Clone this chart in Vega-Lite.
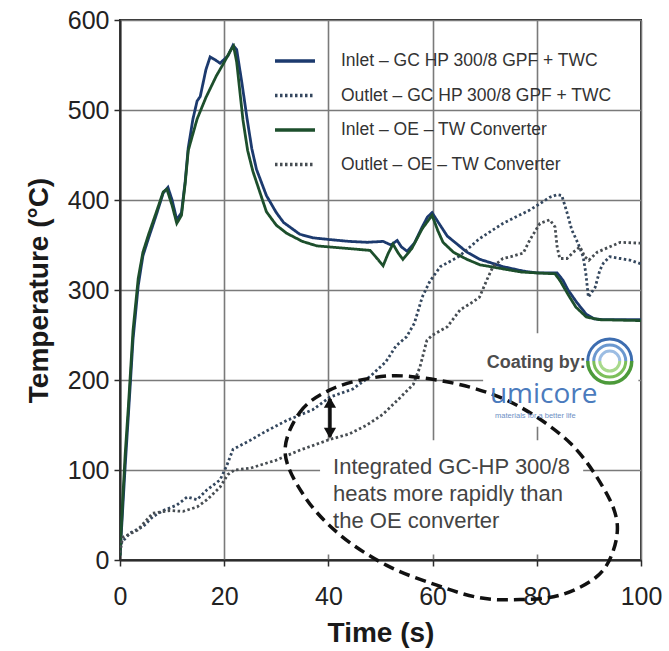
{
  "$schema": "https://vega.github.io/schema/vega-lite/v6.json",
  "width": 521,
  "height": 540,
  "autosize": {"type": "none"},
  "padding": {"left": 120, "top": 20, "right": 28, "bottom": 91},
  "background": "white",
  "config": {
    "view": {"stroke": "#2b2b2b", "strokeWidth": 2},
    "font": "Liberation Sans",
    "axis": {
      "labelFont": "Liberation Sans",
      "labelFontSize": 25,
      "labelColor": "#222222",
      "titleFont": "Liberation Sans",
      "titleFontSize": 28,
      "titleFontWeight": "bold",
      "titleColor": "#1a1a1a",
      "domainColor": "#2b2b2b",
      "domainWidth": 2,
      "tickColor": "#2b2b2b",
      "tickWidth": 1.5,
      "tickSize": 6,
      "gridColor": "#7a7a7a",
      "gridWidth": 1.6,
      "gridOpacity": 1
    }
  },
  "datasets": {
    "curves": [
      {"series": "Inlet – GC HP 300/8 GPF + TWC", "t": 0, "T": 5},
      {"series": "Inlet – GC HP 300/8 GPF + TWC", "t": 0.5, "T": 55},
      {"series": "Inlet – GC HP 300/8 GPF + TWC", "t": 1, "T": 105},
      {"series": "Inlet – GC HP 300/8 GPF + TWC", "t": 1.6, "T": 160},
      {"series": "Inlet – GC HP 300/8 GPF + TWC", "t": 2.5, "T": 245},
      {"series": "Inlet – GC HP 300/8 GPF + TWC", "t": 3.5, "T": 305},
      {"series": "Inlet – GC HP 300/8 GPF + TWC", "t": 4.4, "T": 338},
      {"series": "Inlet – GC HP 300/8 GPF + TWC", "t": 5.5, "T": 358},
      {"series": "Inlet – GC HP 300/8 GPF + TWC", "t": 7, "T": 384},
      {"series": "Inlet – GC HP 300/8 GPF + TWC", "t": 8.3, "T": 408},
      {"series": "Inlet – GC HP 300/8 GPF + TWC", "t": 9.2, "T": 414},
      {"series": "Inlet – GC HP 300/8 GPF + TWC", "t": 10, "T": 400},
      {"series": "Inlet – GC HP 300/8 GPF + TWC", "t": 10.9, "T": 378},
      {"series": "Inlet – GC HP 300/8 GPF + TWC", "t": 11.8, "T": 386},
      {"series": "Inlet – GC HP 300/8 GPF + TWC", "t": 12.5, "T": 420},
      {"series": "Inlet – GC HP 300/8 GPF + TWC", "t": 13.1, "T": 458},
      {"series": "Inlet – GC HP 300/8 GPF + TWC", "t": 14, "T": 490},
      {"series": "Inlet – GC HP 300/8 GPF + TWC", "t": 14.8, "T": 510},
      {"series": "Inlet – GC HP 300/8 GPF + TWC", "t": 15.4, "T": 515},
      {"series": "Inlet – GC HP 300/8 GPF + TWC", "t": 16.5, "T": 545},
      {"series": "Inlet – GC HP 300/8 GPF + TWC", "t": 17.3, "T": 559},
      {"series": "Inlet – GC HP 300/8 GPF + TWC", "t": 18.2, "T": 556},
      {"series": "Inlet – GC HP 300/8 GPF + TWC", "t": 19.2, "T": 552},
      {"series": "Inlet – GC HP 300/8 GPF + TWC", "t": 20.7, "T": 560},
      {"series": "Inlet – GC HP 300/8 GPF + TWC", "t": 21.7, "T": 572},
      {"series": "Inlet – GC HP 300/8 GPF + TWC", "t": 22.4, "T": 567},
      {"series": "Inlet – GC HP 300/8 GPF + TWC", "t": 23.4, "T": 530},
      {"series": "Inlet – GC HP 300/8 GPF + TWC", "t": 24.4, "T": 490},
      {"series": "Inlet – GC HP 300/8 GPF + TWC", "t": 25.3, "T": 457},
      {"series": "Inlet – GC HP 300/8 GPF + TWC", "t": 26.2, "T": 434},
      {"series": "Inlet – GC HP 300/8 GPF + TWC", "t": 28.1, "T": 405},
      {"series": "Inlet – GC HP 300/8 GPF + TWC", "t": 30, "T": 386},
      {"series": "Inlet – GC HP 300/8 GPF + TWC", "t": 31.4, "T": 375},
      {"series": "Inlet – GC HP 300/8 GPF + TWC", "t": 34.5, "T": 362},
      {"series": "Inlet – GC HP 300/8 GPF + TWC", "t": 37, "T": 358},
      {"series": "Inlet – GC HP 300/8 GPF + TWC", "t": 40.3, "T": 356},
      {"series": "Inlet – GC HP 300/8 GPF + TWC", "t": 44, "T": 354},
      {"series": "Inlet – GC HP 300/8 GPF + TWC", "t": 47.4, "T": 353},
      {"series": "Inlet – GC HP 300/8 GPF + TWC", "t": 50.5, "T": 354},
      {"series": "Inlet – GC HP 300/8 GPF + TWC", "t": 52, "T": 350},
      {"series": "Inlet – GC HP 300/8 GPF + TWC", "t": 53.2, "T": 355},
      {"series": "Inlet – GC HP 300/8 GPF + TWC", "t": 54, "T": 348},
      {"series": "Inlet – GC HP 300/8 GPF + TWC", "t": 55.1, "T": 343},
      {"series": "Inlet – GC HP 300/8 GPF + TWC", "t": 56.5, "T": 352},
      {"series": "Inlet – GC HP 300/8 GPF + TWC", "t": 58, "T": 370},
      {"series": "Inlet – GC HP 300/8 GPF + TWC", "t": 59, "T": 381},
      {"series": "Inlet – GC HP 300/8 GPF + TWC", "t": 59.9, "T": 386},
      {"series": "Inlet – GC HP 300/8 GPF + TWC", "t": 61, "T": 376},
      {"series": "Inlet – GC HP 300/8 GPF + TWC", "t": 62.8, "T": 360},
      {"series": "Inlet – GC HP 300/8 GPF + TWC", "t": 66.6, "T": 342},
      {"series": "Inlet – GC HP 300/8 GPF + TWC", "t": 69.1, "T": 334},
      {"series": "Inlet – GC HP 300/8 GPF + TWC", "t": 73.5, "T": 326},
      {"series": "Inlet – GC HP 300/8 GPF + TWC", "t": 77.4, "T": 321},
      {"series": "Inlet – GC HP 300/8 GPF + TWC", "t": 80, "T": 319},
      {"series": "Inlet – GC HP 300/8 GPF + TWC", "t": 83.9, "T": 319},
      {"series": "Inlet – GC HP 300/8 GPF + TWC", "t": 85, "T": 311},
      {"series": "Inlet – GC HP 300/8 GPF + TWC", "t": 86, "T": 300},
      {"series": "Inlet – GC HP 300/8 GPF + TWC", "t": 87.7, "T": 286},
      {"series": "Inlet – GC HP 300/8 GPF + TWC", "t": 89.5, "T": 273},
      {"series": "Inlet – GC HP 300/8 GPF + TWC", "t": 91, "T": 268},
      {"series": "Inlet – GC HP 300/8 GPF + TWC", "t": 92.7, "T": 267},
      {"series": "Inlet – GC HP 300/8 GPF + TWC", "t": 100, "T": 267},

      {"series": "Outlet – GC HP 300/8 GPF + TWC", "t": 0, "T": 12},
      {"series": "Outlet – GC HP 300/8 GPF + TWC", "t": 0.3, "T": 19},
      {"series": "Outlet – GC HP 300/8 GPF + TWC", "t": 1.9, "T": 30},
      {"series": "Outlet – GC HP 300/8 GPF + TWC", "t": 4.4, "T": 37},
      {"series": "Outlet – GC HP 300/8 GPF + TWC", "t": 6.3, "T": 48},
      {"series": "Outlet – GC HP 300/8 GPF + TWC", "t": 8.3, "T": 55},
      {"series": "Outlet – GC HP 300/8 GPF + TWC", "t": 10.9, "T": 61},
      {"series": "Outlet – GC HP 300/8 GPF + TWC", "t": 12.9, "T": 70},
      {"series": "Outlet – GC HP 300/8 GPF + TWC", "t": 14.8, "T": 67},
      {"series": "Outlet – GC HP 300/8 GPF + TWC", "t": 16.7, "T": 78},
      {"series": "Outlet – GC HP 300/8 GPF + TWC", "t": 19.2, "T": 89},
      {"series": "Outlet – GC HP 300/8 GPF + TWC", "t": 20.5, "T": 105},
      {"series": "Outlet – GC HP 300/8 GPF + TWC", "t": 21.7, "T": 123},
      {"series": "Outlet – GC HP 300/8 GPF + TWC", "t": 25, "T": 133},
      {"series": "Outlet – GC HP 300/8 GPF + TWC", "t": 28, "T": 143},
      {"series": "Outlet – GC HP 300/8 GPF + TWC", "t": 32, "T": 155},
      {"series": "Outlet – GC HP 300/8 GPF + TWC", "t": 37, "T": 167},
      {"series": "Outlet – GC HP 300/8 GPF + TWC", "t": 40.3, "T": 181},
      {"series": "Outlet – GC HP 300/8 GPF + TWC", "t": 44.7, "T": 190},
      {"series": "Outlet – GC HP 300/8 GPF + TWC", "t": 48, "T": 204},
      {"series": "Outlet – GC HP 300/8 GPF + TWC", "t": 51, "T": 220},
      {"series": "Outlet – GC HP 300/8 GPF + TWC", "t": 53, "T": 238},
      {"series": "Outlet – GC HP 300/8 GPF + TWC", "t": 55, "T": 248},
      {"series": "Outlet – GC HP 300/8 GPF + TWC", "t": 56.5, "T": 263},
      {"series": "Outlet – GC HP 300/8 GPF + TWC", "t": 58, "T": 292},
      {"series": "Outlet – GC HP 300/8 GPF + TWC", "t": 59.5, "T": 310},
      {"series": "Outlet – GC HP 300/8 GPF + TWC", "t": 61.5, "T": 326},
      {"series": "Outlet – GC HP 300/8 GPF + TWC", "t": 65, "T": 337},
      {"series": "Outlet – GC HP 300/8 GPF + TWC", "t": 69, "T": 357},
      {"series": "Outlet – GC HP 300/8 GPF + TWC", "t": 73.5, "T": 374},
      {"series": "Outlet – GC HP 300/8 GPF + TWC", "t": 78.7, "T": 389},
      {"series": "Outlet – GC HP 300/8 GPF + TWC", "t": 82.5, "T": 403},
      {"series": "Outlet – GC HP 300/8 GPF + TWC", "t": 83.9, "T": 406},
      {"series": "Outlet – GC HP 300/8 GPF + TWC", "t": 84.8, "T": 405},
      {"series": "Outlet – GC HP 300/8 GPF + TWC", "t": 85.8, "T": 386},
      {"series": "Outlet – GC HP 300/8 GPF + TWC", "t": 86.7, "T": 367},
      {"series": "Outlet – GC HP 300/8 GPF + TWC", "t": 87.9, "T": 352},
      {"series": "Outlet – GC HP 300/8 GPF + TWC", "t": 88.9, "T": 337},
      {"series": "Outlet – GC HP 300/8 GPF + TWC", "t": 89.4, "T": 319},
      {"series": "Outlet – GC HP 300/8 GPF + TWC", "t": 89.9, "T": 292},
      {"series": "Outlet – GC HP 300/8 GPF + TWC", "t": 91.2, "T": 303},
      {"series": "Outlet – GC HP 300/8 GPF + TWC", "t": 92.1, "T": 322},
      {"series": "Outlet – GC HP 300/8 GPF + TWC", "t": 92.8, "T": 330},
      {"series": "Outlet – GC HP 300/8 GPF + TWC", "t": 94, "T": 337},
      {"series": "Outlet – GC HP 300/8 GPF + TWC", "t": 96, "T": 335},
      {"series": "Outlet – GC HP 300/8 GPF + TWC", "t": 98, "T": 333},
      {"series": "Outlet – GC HP 300/8 GPF + TWC", "t": 100, "T": 329},

      {"series": "Inlet – OE – TW Converter", "t": 0, "T": 5},
      {"series": "Inlet – OE – TW Converter", "t": 0.5, "T": 65},
      {"series": "Inlet – OE – TW Converter", "t": 1, "T": 118},
      {"series": "Inlet – OE – TW Converter", "t": 1.6, "T": 170},
      {"series": "Inlet – OE – TW Converter", "t": 2.5, "T": 255},
      {"series": "Inlet – OE – TW Converter", "t": 3.5, "T": 313},
      {"series": "Inlet – OE – TW Converter", "t": 4.4, "T": 342},
      {"series": "Inlet – OE – TW Converter", "t": 5.5, "T": 362},
      {"series": "Inlet – OE – TW Converter", "t": 7, "T": 387},
      {"series": "Inlet – OE – TW Converter", "t": 8.3, "T": 409},
      {"series": "Inlet – OE – TW Converter", "t": 9, "T": 412},
      {"series": "Inlet – OE – TW Converter", "t": 10, "T": 394},
      {"series": "Inlet – OE – TW Converter", "t": 10.9, "T": 374},
      {"series": "Inlet – OE – TW Converter", "t": 11.8, "T": 383},
      {"series": "Inlet – OE – TW Converter", "t": 12.5, "T": 418},
      {"series": "Inlet – OE – TW Converter", "t": 13.1, "T": 455},
      {"series": "Inlet – OE – TW Converter", "t": 14.8, "T": 490},
      {"series": "Inlet – OE – TW Converter", "t": 16.5, "T": 514},
      {"series": "Inlet – OE – TW Converter", "t": 18.5, "T": 538},
      {"series": "Inlet – OE – TW Converter", "t": 20, "T": 553},
      {"series": "Inlet – OE – TW Converter", "t": 21.3, "T": 567},
      {"series": "Inlet – OE – TW Converter", "t": 21.8, "T": 571},
      {"series": "Inlet – OE – TW Converter", "t": 22.4, "T": 553},
      {"series": "Inlet – OE – TW Converter", "t": 23.6, "T": 489},
      {"series": "Inlet – OE – TW Converter", "t": 24.5, "T": 455},
      {"series": "Inlet – OE – TW Converter", "t": 25.5, "T": 432},
      {"series": "Inlet – OE – TW Converter", "t": 28.1, "T": 387},
      {"series": "Inlet – OE – TW Converter", "t": 30, "T": 372},
      {"series": "Inlet – OE – TW Converter", "t": 32, "T": 363},
      {"series": "Inlet – OE – TW Converter", "t": 35, "T": 354},
      {"series": "Inlet – OE – TW Converter", "t": 37.8, "T": 349},
      {"series": "Inlet – OE – TW Converter", "t": 44, "T": 346},
      {"series": "Inlet – OE – TW Converter", "t": 48, "T": 344},
      {"series": "Inlet – OE – TW Converter", "t": 49.5, "T": 334},
      {"series": "Inlet – OE – TW Converter", "t": 50.5, "T": 327},
      {"series": "Inlet – OE – TW Converter", "t": 51.5, "T": 341},
      {"series": "Inlet – OE – TW Converter", "t": 52.4, "T": 351},
      {"series": "Inlet – OE – TW Converter", "t": 53.4, "T": 341},
      {"series": "Inlet – OE – TW Converter", "t": 54.3, "T": 334},
      {"series": "Inlet – OE – TW Converter", "t": 56, "T": 346},
      {"series": "Inlet – OE – TW Converter", "t": 58, "T": 368},
      {"series": "Inlet – OE – TW Converter", "t": 59.9, "T": 383},
      {"series": "Inlet – OE – TW Converter", "t": 61, "T": 366},
      {"series": "Inlet – OE – TW Converter", "t": 62, "T": 353},
      {"series": "Inlet – OE – TW Converter", "t": 64, "T": 342},
      {"series": "Inlet – OE – TW Converter", "t": 66.6, "T": 334},
      {"series": "Inlet – OE – TW Converter", "t": 69.1, "T": 328},
      {"series": "Inlet – OE – TW Converter", "t": 73, "T": 324},
      {"series": "Inlet – OE – TW Converter", "t": 77, "T": 320},
      {"series": "Inlet – OE – TW Converter", "t": 80, "T": 319},
      {"series": "Inlet – OE – TW Converter", "t": 83.5, "T": 318},
      {"series": "Inlet – OE – TW Converter", "t": 84.5, "T": 310},
      {"series": "Inlet – OE – TW Converter", "t": 86, "T": 295},
      {"series": "Inlet – OE – TW Converter", "t": 87.5, "T": 281},
      {"series": "Inlet – OE – TW Converter", "t": 89.5, "T": 270},
      {"series": "Inlet – OE – TW Converter", "t": 92, "T": 267},
      {"series": "Inlet – OE – TW Converter", "t": 100, "T": 266},

      {"series": "Outlet – OE – TW Converter", "t": 0, "T": 8},
      {"series": "Outlet – OE – TW Converter", "t": 0.5, "T": 25},
      {"series": "Outlet – OE – TW Converter", "t": 3.3, "T": 33},
      {"series": "Outlet – OE – TW Converter", "t": 6.3, "T": 52},
      {"series": "Outlet – OE – TW Converter", "t": 9.6, "T": 55},
      {"series": "Outlet – OE – TW Converter", "t": 12.1, "T": 54},
      {"series": "Outlet – OE – TW Converter", "t": 14.8, "T": 59},
      {"series": "Outlet – OE – TW Converter", "t": 16.7, "T": 67},
      {"series": "Outlet – OE – TW Converter", "t": 19.2, "T": 81},
      {"series": "Outlet – OE – TW Converter", "t": 20.7, "T": 95},
      {"series": "Outlet – OE – TW Converter", "t": 22, "T": 100},
      {"series": "Outlet – OE – TW Converter", "t": 25, "T": 102},
      {"series": "Outlet – OE – TW Converter", "t": 30, "T": 111},
      {"series": "Outlet – OE – TW Converter", "t": 34.5, "T": 122},
      {"series": "Outlet – OE – TW Converter", "t": 40.3, "T": 134},
      {"series": "Outlet – OE – TW Converter", "t": 44, "T": 140},
      {"series": "Outlet – OE – TW Converter", "t": 47.4, "T": 150},
      {"series": "Outlet – OE – TW Converter", "t": 50.5, "T": 162},
      {"series": "Outlet – OE – TW Converter", "t": 53.7, "T": 180},
      {"series": "Outlet – OE – TW Converter", "t": 56.3, "T": 195},
      {"series": "Outlet – OE – TW Converter", "t": 57.6, "T": 215},
      {"series": "Outlet – OE – TW Converter", "t": 58.9, "T": 244},
      {"series": "Outlet – OE – TW Converter", "t": 60, "T": 250},
      {"series": "Outlet – OE – TW Converter", "t": 62.8, "T": 259},
      {"series": "Outlet – OE – TW Converter", "t": 65.3, "T": 278},
      {"series": "Outlet – OE – TW Converter", "t": 67.8, "T": 287},
      {"series": "Outlet – OE – TW Converter", "t": 69, "T": 292},
      {"series": "Outlet – OE – TW Converter", "t": 70.4, "T": 311},
      {"series": "Outlet – OE – TW Converter", "t": 71.6, "T": 326},
      {"series": "Outlet – OE – TW Converter", "t": 73.5, "T": 335},
      {"series": "Outlet – OE – TW Converter", "t": 75, "T": 337},
      {"series": "Outlet – OE – TW Converter", "t": 77.4, "T": 341},
      {"series": "Outlet – OE – TW Converter", "t": 78.7, "T": 356},
      {"series": "Outlet – OE – TW Converter", "t": 80.6, "T": 374},
      {"series": "Outlet – OE – TW Converter", "t": 82.5, "T": 378},
      {"series": "Outlet – OE – TW Converter", "t": 83.5, "T": 370},
      {"series": "Outlet – OE – TW Converter", "t": 83.9, "T": 348},
      {"series": "Outlet – OE – TW Converter", "t": 84.4, "T": 335},
      {"series": "Outlet – OE – TW Converter", "t": 85.8, "T": 335},
      {"series": "Outlet – OE – TW Converter", "t": 87, "T": 342},
      {"series": "Outlet – OE – TW Converter", "t": 88.3, "T": 348},
      {"series": "Outlet – OE – TW Converter", "t": 89.2, "T": 337},
      {"series": "Outlet – OE – TW Converter", "t": 90, "T": 333},
      {"series": "Outlet – OE – TW Converter", "t": 91.6, "T": 342},
      {"series": "Outlet – OE – TW Converter", "t": 94, "T": 348},
      {"series": "Outlet – OE – TW Converter", "t": 96, "T": 353},
      {"series": "Outlet – OE – TW Converter", "t": 100, "T": 352}
    ],
    "ellipse": [
      {"i": 1, "t": 31.7, "T": 119},
      {"i": 2, "t": 34.5, "T": 164},
      {"i": 3, "t": 40.3, "T": 189},
      {"i": 4, "t": 48.0, "T": 202},
      {"i": 5, "t": 55.7, "T": 204},
      {"i": 6, "t": 67.2, "T": 192},
      {"i": 7, "t": 76.8, "T": 170},
      {"i": 8, "t": 86.4, "T": 130},
      {"i": 9, "t": 92.7, "T": 81},
      {"i": 10, "t": 95.4, "T": 42},
      {"i": 11, "t": 94.4, "T": 6},
      {"i": 12, "t": 91.2, "T": -20},
      {"i": 13, "t": 84.5, "T": -39},
      {"i": 14, "t": 76.8, "T": -44},
      {"i": 15, "t": 69.1, "T": -42},
      {"i": 16, "t": 60.8, "T": -28},
      {"i": 17, "t": 51.2, "T": -6},
      {"i": 18, "t": 42.2, "T": 28},
      {"i": 19, "t": 35.5, "T": 70}
    ],
    "bg": [
      {"t1": 38.4, "t2": 88.9, "T1": 6, "T2": 133},
      {"t1": 69.7, "t2": 99.5, "T1": 148, "T2": 252}
    ],
    "arrow": [{"t": 40.3, "lo": 137, "hi": 179}],
    "heads": [
      {"t": 40.3, "T": 175, "dir": "up"},
      {"t": 40.3, "T": 141, "dir": "down"}
    ],
    "notes": [
      {"t": 40.9, "T": 114, "label": "Integrated GC-HP 300/8\nheats more rapidly than\nthe OE converter"}
    ],
    "logo": [{"t": 94, "T": 221}]
  },
  "encoding": {
    "x": {
      "field": "t",
      "type": "quantitative",
      "scale": {"domain": [0, 100], "nice": false},
      "axis": {
        "title": "Time (s)",
        "values": [0, 20, 40, 60, 80, 100],
        "labelPadding": 18,
        "titlePadding": 10,
        "grid": true,
        "labelFlush": false
      }
    },
    "y": {
      "field": "T",
      "type": "quantitative",
      "scale": {"domain": [0, 600], "nice": false},
      "axis": {
        "title": "Temperature (°C)",
        "values": [0, 100, 200, 300, 400, 500, 600],
        "labelPadding": 5,
        "titlePadding": 14,
        "grid": true,
        "labelFlush": false
      }
    }
  },
  "layer": [
    {
      "data": {"name": "bg"},
      "mark": {"type": "rect", "fill": "white", "stroke": null},
      "encoding": {
        "x": {"field": "t1", "type": "quantitative"},
        "x2": {"field": "t2"},
        "y": {"field": "T1", "type": "quantitative"},
        "y2": {"field": "T2"}
      }
    },
    {
      "data": {"name": "curves"},
      "mark": {"type": "line", "strokeWidth": 2.8, "clip": true},
      "encoding": {
        "color": {
          "field": "series",
          "type": "nominal",
          "scale": {
            "domain": ["Inlet – GC HP 300/8 GPF + TWC", "Outlet – GC HP 300/8 GPF + TWC", "Inlet – OE – TW Converter", "Outlet – OE – TW Converter"],
            "range": ["#1c3a6e", "#34475e", "#1d4f2c", "#474d52"]
          },
          "legend": {
            "orient": "none",
            "legendX": 163,
            "legendY": 29,
            "title": null,
            "symbolType": "M -2 0 L 2 0",
            "symbolSize": 400,
            "symbolStrokeWidth": 3.5,
            "labelFont": "Liberation Sans",
            "labelFontSize": 17.5,
            "labelColor": "#333333",
            "labelOffset": 34,
            "rowPadding": 13.5,
            "labelLimit": 400
          }
        },
        "strokeDash": {
          "field": "series",
          "type": "nominal",
          "scale": {
            "domain": ["Inlet – GC HP 300/8 GPF + TWC", "Outlet – GC HP 300/8 GPF + TWC", "Inlet – OE – TW Converter", "Outlet – OE – TW Converter"],
            "range": [[1, 0], [2.5, 2.5], [1, 0], [2.5, 2.5]]
          },
          "legend": {
            "orient": "none",
            "legendX": 163,
            "legendY": 29,
            "title": null,
            "symbolType": "M -2 0 L 2 0",
            "symbolSize": 400,
            "symbolStrokeWidth": 3.5,
            "labelFont": "Liberation Sans",
            "labelFontSize": 17.5,
            "labelColor": "#333333",
            "labelOffset": 34,
            "rowPadding": 13.5,
            "labelLimit": 400
          }
        }
      }
    },
    {
      "data": {"name": "ellipse"},
      "mark": {"type": "line", "interpolate": "cardinal-closed", "stroke": "#111111", "strokeWidth": 3.5, "strokeDash": [11, 6], "clip": false},
      "encoding": {
        "order": {"field": "i", "type": "quantitative"}
      }
    },
    {
      "data": {"name": "arrow"},
      "mark": {"type": "rule", "stroke": "#111111", "strokeWidth": 3.5},
      "encoding": {
        "y": {"field": "lo", "type": "quantitative"},
        "y2": {"field": "hi"}
      }
    },
    {
      "data": {"name": "heads"},
      "mark": {"type": "point", "filled": true, "color": "#111111", "size": 150, "opacity": 1},
      "encoding": {
        "shape": {
          "field": "dir",
          "type": "nominal",
          "scale": {"domain": ["up", "down"], "range": ["triangle-up", "triangle-down"]},
          "legend": null
        }
      }
    },
    {
      "data": {"name": "notes"},
      "mark": {"type": "text", "align": "left", "baseline": "top", "font": "Liberation Sans", "fontSize": 22, "lineHeight": 27, "color": "#444444", "lineBreak": "\n"},
      "encoding": {
        "text": {"field": "label"}
      }
    },
    {
      "data": {"values": [{"t": 70.4, "T": 219, "label": "Coating by:"}]},
      "mark": {"type": "text", "align": "left", "baseline": "middle", "font": "Liberation Sans", "fontSize": 18, "fontWeight": "bold", "color": "#4d4d4d"},
      "encoding": {"text": {"field": "label"}}
    },
    {
      "data": {"values": [{"t": 71, "T": 175, "label": "umicore"}]},
      "mark": {"type": "text", "align": "left", "baseline": "alphabetic", "font": "Open Sans", "fontSize": 28, "color": "#4b7bbd"},
      "encoding": {"text": {"field": "label"}}
    },
    {
      "data": {"values": [{"t": 72, "T": 160, "label": "materials for a better life"}]},
      "mark": {"type": "text", "align": "left", "baseline": "middle", "font": "Liberation Sans", "fontSize": 7.5, "color": "#6d8fc4"},
      "encoding": {"text": {"field": "label"}}
    },
    {
      "data": {"name": "logo"},
      "mark": {"type": "point", "shape": "M -1 0 A 1 1 0 0 1 1 0", "size": 1936, "stroke": "#3d6db0", "strokeWidth": 3, "fill": null, "filled": false, "opacity": 1}
    },
    {
      "data": {"name": "logo"},
      "mark": {"type": "point", "shape": "M -1 0 A 1 1 0 0 1 1 0", "size": 1024, "stroke": "#6b98cf", "strokeWidth": 3, "fill": null, "filled": false, "opacity": 1}
    },
    {
      "data": {"name": "logo"},
      "mark": {"type": "point", "shape": "M -1 0 A 1 1 0 0 1 1 0", "size": 400, "stroke": "#9cbde3", "strokeWidth": 3, "fill": null, "filled": false, "opacity": 1}
    },
    {
      "data": {"name": "logo"},
      "mark": {"type": "point", "shape": "M -1 0 A 1 1 0 0 0 1 0", "size": 1936, "stroke": "#4c9a3a", "strokeWidth": 3.5, "fill": null, "filled": false, "opacity": 1}
    },
    {
      "data": {"name": "logo"},
      "mark": {"type": "point", "shape": "M -1 0 A 1 1 0 0 0 1 0", "size": 1024, "stroke": "#7cbf5a", "strokeWidth": 3, "fill": null, "filled": false, "opacity": 1}
    },
    {
      "data": {"name": "logo"},
      "mark": {"type": "point", "shape": "M -1 0 A 1 1 0 0 0 1 0", "size": 400, "stroke": "#a8d98c", "strokeWidth": 3, "fill": null, "filled": false, "opacity": 1}
    }
  ]
}
